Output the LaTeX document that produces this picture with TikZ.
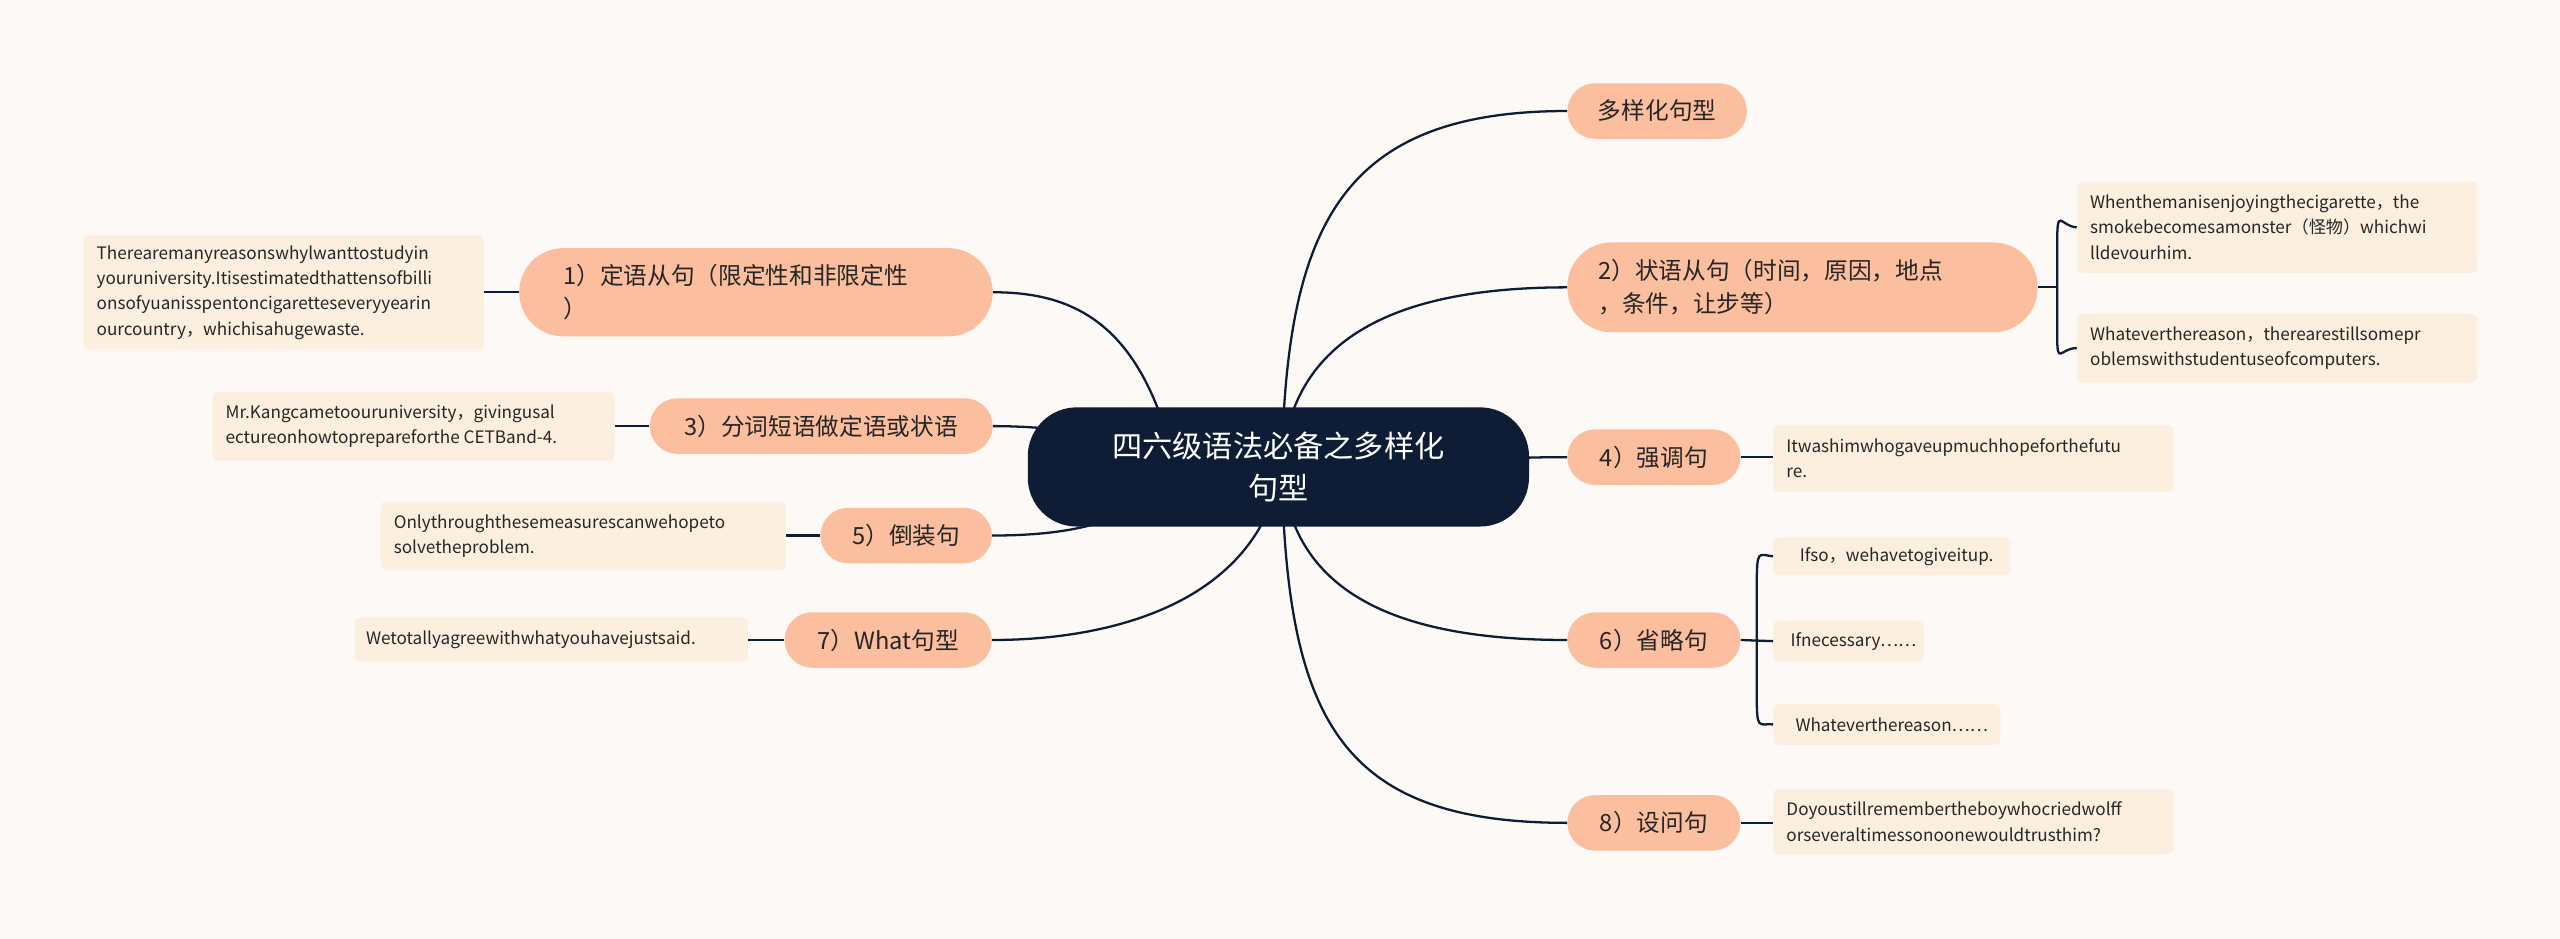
\documentclass[tikz,border=0pt]{standalone}
\usepackage{fontspec}
\setmainfont{Noto Sans CJK SC}
\definecolor{bg}{HTML}{FDF9F6}
\definecolor{pill}{HTML}{FBBE9E}
\definecolor{leaf}{HTML}{FDEFDF}
\definecolor{ink}{HTML}{0E1D35}
\tikzset{
 topic/.style={fill=pill,rounded corners=17pt,inner sep=0pt,font=\fontsize{14.5}{20}\selectfont,text=black!85},
 leafbox/.style={fill=leaf,rounded corners=3pt,inner sep=0pt,font=\fontsize{10.5}{15.5}\selectfont,align=left,text=black!85},
 link/.style={draw=ink,line width=1.4pt},
}
\begin{document}
\begin{tikzpicture}[x=1pt,y=-1pt]
\fill[bg] (0,0) rectangle (1568,575);
\useasboundingbox (0,0) rectangle (1568,575);
% helper to make box nodes
\newcommand{\bx}[6]{\node[#1,minimum width=#4pt,minimum height=#5pt,anchor=north west] (#2) at (#3) {#6};}
% center
\coordinate (cc) at (783,286);
% right connectors
\coordinate (cr) at (785,286);
\coordinate (cl) at (720,286);
% topics
\node[topic,minimum width=110pt,minimum height=34pt] (t0) at (1015,68) {多样化句型};
\node[topic,minimum width=288pt,minimum height=55pt,rounded corners=27pt,align=left,text width=250pt] (t2) at (1104,176) {2）状语从句（时间，原因，地点\\，条件，让步等）};
\node[topic,minimum width=106pt,minimum height=34pt] (t4) at (1013,280) {4）强调句};
\node[topic,minimum width=106pt,minimum height=34pt] (t6) at (1013,392) {6）省略句};
\node[topic,minimum width=106pt,minimum height=34pt] (t8) at (1013,504) {8）设问句};
\node[topic,minimum width=290pt,minimum height=54pt,rounded corners=27pt,align=left,text width=236pt] (t1) at (463,179) {1）定语从句（限定性和非限定性\\）};
\node[topic,minimum width=210pt,minimum height=34pt] (t3) at (503,261) {3）分词短语做定语或状语};
\node[topic,minimum width=105pt,minimum height=34pt] (t5) at (555,328) {5）倒装句};
\node[topic,minimum width=127pt,minimum height=34pt] (t7) at (544,392) {7）What句型};
% connectors center-topics
\draw[link] (cr) .. controls (788,140) and (820,68) .. (t0.west);
\draw[link] (cr) .. controls (790,210) and (850,176) .. (t2.west);
\draw[link] (cr) .. controls (860,286) and (900,280) .. (t4.west);
\draw[link] (cr) .. controls (790,360) and (850,392) .. (t6.west);
\draw[link] (cr) .. controls (788,440) and (820,504) .. (t8.west);
\draw[link] (cl) .. controls (700,200) and (660,179) .. (t1.east);
\draw[link] (cl) .. controls (690,265) and (640,261) .. (t3.east);
\draw[link] (cl) .. controls (700,322) and (650,328) .. (t5.east);
\draw[link] (cr) .. controls (770,370) and (680,392) .. (t7.east);
% center node
\node[fill=ink,rounded corners=30pt,minimum width=307pt,minimum height=73pt,text=white,align=center,font=\fontsize{18.5}{26}\selectfont] (c) at (cc) {四六级语法必备之多样化\\句型};
% leaves
\bx{leafbox}{l1}{51,144}{245}{70}{\hspace{6pt}\parbox{235pt}{\raggedright Therearemanyreasonswhylwanttostudyin\\youruniversity.Itisestimatedthattensofbilli\\onsofyuanisspentoncigaretteseveryyearin\\ourcountry，whichisahugewaste.}}
\bx{leafbox}{l3}{130,240}{246}{42}{\hspace{6pt}\parbox{236pt}{\raggedright Mr.Kangcametoouruniversity，givingusal\\ectureonhowtoprepareforthe CETBand-4.}}
\bx{leafbox}{l5}{233,307}{248}{42}{\hspace{6pt}\parbox{238pt}{\raggedright Onlythroughthesemeasurescanwehopeto\\solvetheproblem.}}
\bx{leafbox}{l7}{217,378}{241}{27}{\hspace{6pt}\parbox{233pt}{\raggedright Wetotallyagreewithwhatyouhavejustsaid.}}
\bx{leafbox}{r2a}{1272,111}{245}{56}{\hspace{6pt}\parbox{235pt}{\raggedright Whenthemanisenjoyingthecigarette，the\\smokebecomesamonster（怪物）whichwi\\lldevourhim.}}
\bx{leafbox}{r2b}{1272,192}{245}{42}{\hspace{6pt}\parbox{235pt}{\raggedright Whateverthereason，therearestillsomepr\\oblemswithstudentuseofcomputers.}}
\bx{leafbox}{r4}{1086,260}{245}{41}{\hspace{6pt}\parbox{235pt}{\raggedright Itwashimwhogaveupmuchhopeforthefutu\\re.}}
\bx{leafbox}{r6a}{1086,329}{145}{23}{\hspace{6pt}Ifso，wehavetogiveitup.}
\bx{leafbox}{r6b}{1086,380}{92}{25}{\hspace{6pt}Ifnecessary……}
\bx{leafbox}{r6c}{1086,431}{139}{25}{\hspace{6pt}Whateverthereason……}
\bx{leafbox}{r8}{1086,483}{245}{40}{\hspace{6pt}\parbox{235pt}{\raggedright Doyoustillremembertheboywhocriedwolff\\orseveraltimessonoonewouldtrusthim?}}
% topic-leaf links
\draw[link] (t1.west) -- (l1.east |- t1.west);
\draw[link] (t3.west) -- (l3.east |- t3.west);
\draw[link] (t5.west) -- (l5.east |- t5.west);
\draw[link] (t7.west) -- (l7.east |- t7.west);
\draw[link] (t4.east) -- (r4.west |- t4.east);
\draw[link] (t8.east) -- (r8.west |- t8.east);
\coordinate (b2) at (1260,176);
\draw[link] (t2.east) -- (b2);
\draw[link] (r2a.west) .. controls (1262,139) and (1260,125) .. (1260,150) -- (1260,205) .. controls (1260,225) and (1262,213) .. (r2b.west);
\coordinate (b6) at (1076,392);
\draw[link] (t6.east) -- (r6b.west);
\draw[link] (r6a.west) .. controls (1077,340) and (1076,335) .. (1076,360) -- (1076,425) .. controls (1076,448) and (1077,443) .. (r6c.west);
\end{tikzpicture}
\end{document}
